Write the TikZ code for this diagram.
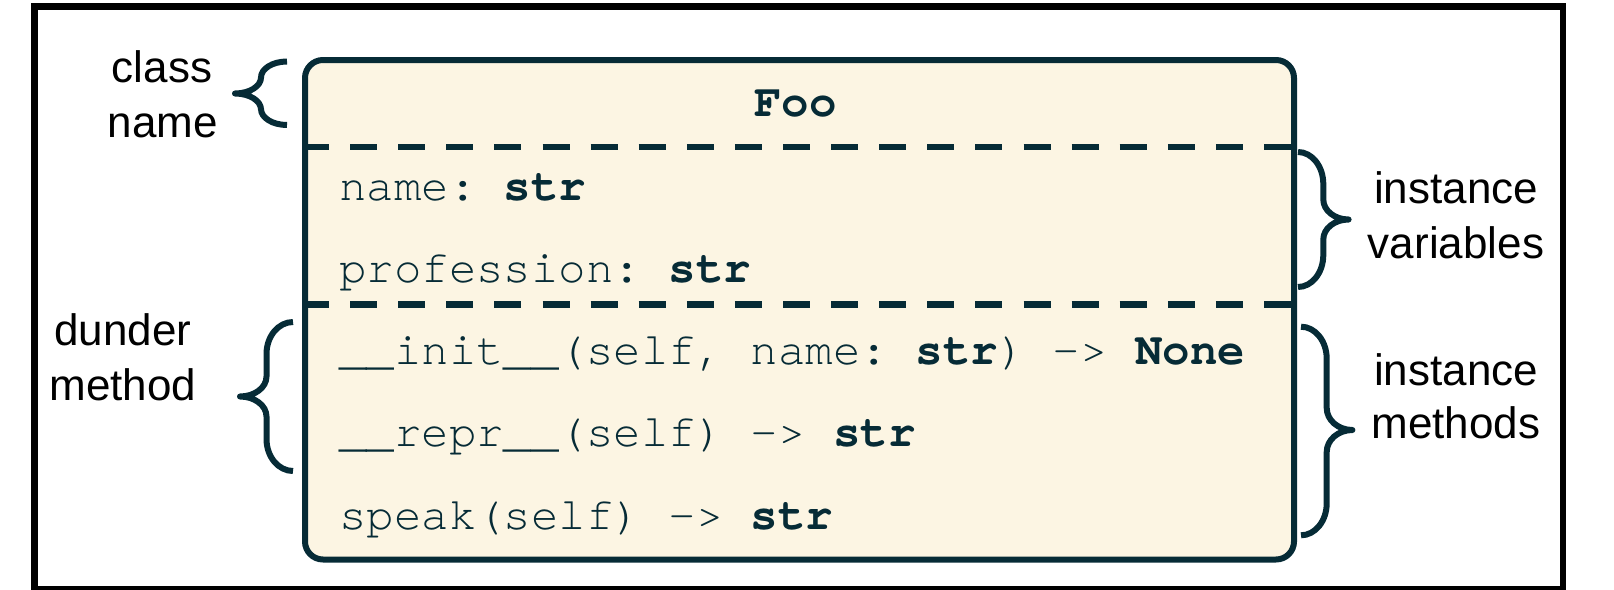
\documentclass[tikz,border=0pt]{standalone}
\usepackage{fontspec}
\setmainfont{Liberation Sans}
\newfontfamily\codefont{TeX Gyre Cursor}
\definecolor{ink}{RGB}{6,43,54}
\definecolor{cream}{RGB}{252,245,227}
\frenchspacing
\tikzset{
  frameline/.style={draw=black, line width=6.7pt, inner sep=0pt},
  classbox/.style={draw=ink, fill=cream, line width=6pt, rounded corners=18pt, inner sep=0pt},
  sepline/.style={draw=ink, line width=6.5pt, dash pattern=on 27pt off 21.1pt},
  bracestyle/.style={draw=ink, line width=6pt, line join=round},
  code/.style={anchor=base west, inner sep=0pt, text=ink, font=\codefont\frenchspacing\fontsize{45.75}{50}\selectfont},
  codetitle/.style={anchor=base, inner sep=0pt, text=ink, font=\codefont\bfseries\fontsize{45.75}{50}\selectfont},
  lbl/.style={anchor=base, inner sep=0pt, text=black, font=\fontsize{44}{50}\selectfont},
}
\newcommand\curlybrace[7]{%
  \draw[bracestyle] (#1,#2) .. controls ({#1+0.552*(#5)},#2) and ({#1+(#5)},{#2+0.448*(#6)}) .. ({#1+(#5)},{#2+(#6)})
    -- ({#1+(#5)},{#4-(#7)}) .. controls ({#1+(#5)},{#4-0.448*(#7)}) and ({#1+1.448*(#5)},#4) .. ({#1+2*(#5)},#4)
    .. controls ({#1+1.448*(#5)},#4) and ({#1+(#5)},{#4+0.448*(#7)}) .. ({#1+(#5)},{#4+(#7)})
    -- ({#1+(#5)},{#3-(#6)}) .. controls ({#1+(#5)},{#3-0.448*(#6)}) and ({#1+0.552*(#5)},#3) .. (#1,#3);}
\begin{document}
\begin{tikzpicture}[x=1pt,y=-1pt]
\useasboundingbox (0,0) rectangle (1614,589);
\node[frameline, minimum width=1528.4pt, minimum height=582.3pt, anchor=north west] (frame) at (31.2,3.35) {};
\node[classbox, minimum width=989pt, minimum height=499.5pt, anchor=north west] (cls) at (302,57) {};
\coordinate (s1l) at (302,147); \coordinate (s1r) at (1291,147);
\coordinate (s2l) at (302,304.5); \coordinate (s2r) at (1291,304.5);
\draw[sepline] (s1l) -- (s1r);
\draw[sepline] (s2l) -- (s2r);
% texts in the class box
\node[codetitle] (foo) at (795.5,116) {Foo};
\node[code] (v1) at (339,200) {name: \textbf{str}};
\node[code] (v2) at (339,282) {profession: \textbf{str}};
\node[code] (m1) at (339,364.5) {\_\_init\_\_(self, name: \textbf{str}) -> \textbf{None}};
\node[code] (m2) at (339,446.5) {\_\_repr\_\_(self) -> \textbf{str}};
\node[code] (m3) at (339,529) {speak(self) -> \textbf{str}};
% labels
\node[lbl] (cn1) at (162,82.3) {class};
\node[lbl] (cn2) at (163,137.3) {name};
\node[lbl] (dm1) at (123,345) {dunder};
\node[lbl] (dm2) at (123,400) {method};
\node[lbl] (iv1) at (1456,203) {instance};
\node[lbl] (iv2) at (1456,258) {variables};
\node[lbl] (im1) at (1456,385) {instance};
\node[lbl] (im2) at (1456,438.3) {methods};
% braces
\curlybrace{287}{61.5}{125}{93.5}{-26}{16}{16}
\curlybrace{293}{322}{471}{396.5}{-26.5}{32}{20}
\curlybrace{1298}{152}{287}{219.5}{25.3}{32}{20}
\curlybrace{1301}{326.7}{535.3}{430}{25.7}{32}{22}
\end{tikzpicture}
\end{document}
